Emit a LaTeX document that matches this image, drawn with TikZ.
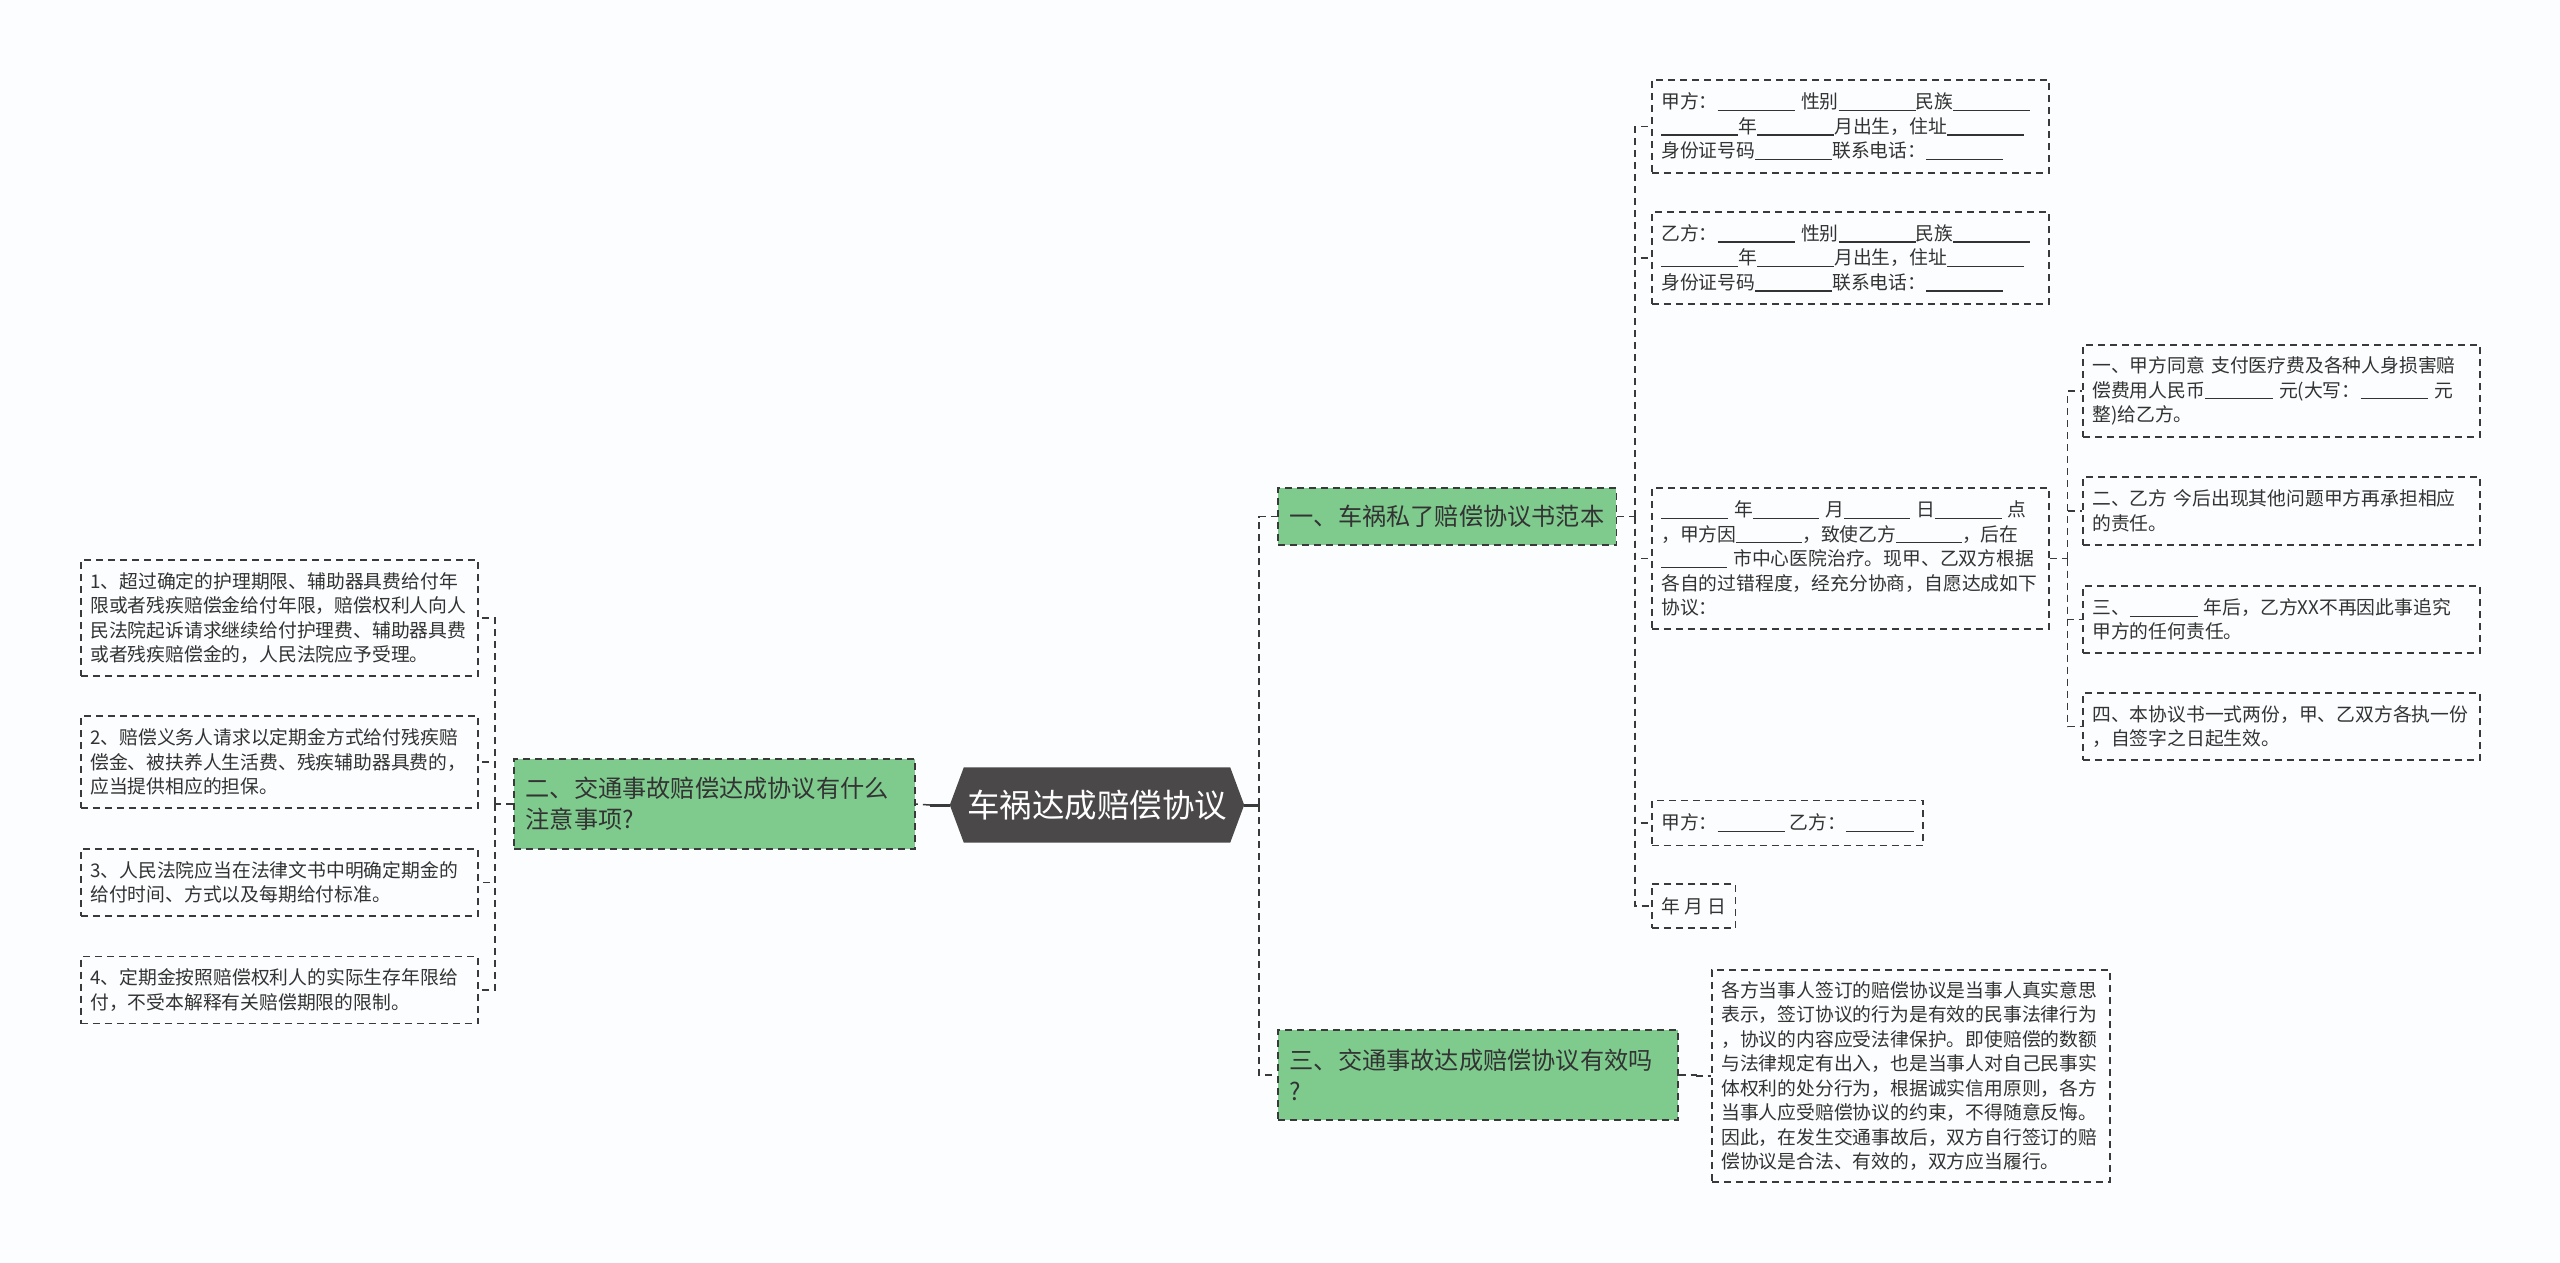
\documentclass[tikz,border=0pt]{standalone}
\usepackage{fontspec}
\setmainfont{Noto Sans CJK SC}
\usetikzlibrary{backgrounds}
\definecolor{bg}{HTML}{FBFDFE}
\definecolor{gfill}{HTML}{7FCB8E}
\definecolor{rootfill}{HTML}{4A4848}
\definecolor{ink}{HTML}{333333}
\definecolor{ln}{HTML}{3A3A3A}
\newcommand\bk[1]{\rule[-0.12em]{#1em}{1.2pt}}
\begin{document}
\begin{tikzpicture}[x=1pt,y=-1pt,
  leaf/.style={draw=ln, line width=1.5pt, dash pattern=on 7pt off 5pt, fill=bg, text=ink,
    font=\fontsize{18.8}{24.5}\selectfont, align=left, inner xsep=9.5pt, inner ysep=0pt, anchor=west},
  branch/.style={draw=ln, line width=1.5pt, dash pattern=on 7pt off 5pt, fill=gfill, text=ink,
    font=\fontsize{24.2}{31}\selectfont, align=left, inner xsep=12pt, inner ysep=0pt, anchor=west},
  rootnode/.style={text=white, font=\fontsize{32.5}{36}\selectfont, minimum width=294pt, minimum height=75pt, inner sep=0pt},
  conn/.style={draw=ln, line width=1.5pt, dash pattern=on 7pt off 5pt},
  rootline/.style={draw=ln, line width=3pt}]
\useasboundingbox (0,0) rectangle (2560,1263);
\begin{scope}[on background layer]
\fill[bg] (0,0) rectangle (2560,1263);
\end{scope}

% root
\node[rootnode] (root) at (1097,805) {车祸达成赔偿协议};
\begin{scope}[on background layer]
\fill[rootfill] (root.west) -- ([xshift=14pt]root.north west) -- ([xshift=-14pt]root.north east) -- (root.east) -- ([xshift=-14pt]root.south east) -- ([xshift=14pt]root.south west) -- cycle;
\end{scope}

% branches
\node[branch, minimum height=57pt] (b1) at (1277,516.5) {一、车祸私了赔偿协议书范本};
\node[branch, text width=376pt, minimum height=90pt] (b3) at (1277,1075) {三、交通事故达成赔偿协议有效吗\\?};
\node[branch, text width=377pt, minimum height=90pt] (b2) at (513,804) {二、交通事故赔偿达成协议有什么\\注意事项?};

% branch 1 children
\node[leaf, text width=378pt, minimum height=93pt] (pa) at (1651,126.5) {甲方：\bk{4.1} 性别\bk{4.1}民族\bk{4.1}\\\bk{4.1}年\bk{4.1}月出生，住址\bk{4.1}\\身份证号码\bk{4.1}联系电话：\bk{4.1}};
\node[leaf, text width=378pt, minimum height=92pt] (pb) at (1651,258) {乙方：\bk{4.1} 性别\bk{4.1}民族\bk{4.1}\\\bk{4.1}年\bk{4.1}月出生，住址\bk{4.1}\\身份证号码\bk{4.1}联系电话：\bk{4.1}};
\node[leaf, text width=378pt, minimum height=141pt] (dt) at (1651,558.5) {\bk{3.55} 年\bk{3.5} 月\bk{3.5} 日\bk{3.55} 点\\，甲方因\bk{3.5}，致使乙方\bk{3.5}，后在\\\bk{3.5} 市中心医院治疗。现甲、乙双方根据\\各自的过错程度，经充分协商，自愿达成如下\\协议：};
\node[leaf, minimum height=45pt] (sg) at (1651,823) {甲方：\bk{3.6} 乙方：\bk{3.6}};
\node[leaf, minimum height=44pt] (ymd) at (1651,906) {年 月 日};

% date children
\node[leaf, text width=378pt, minimum height=92pt] (t1) at (2082,391) {一、甲方同意 支付医疗费及各种人身损害赔\\偿费用人民币\bk{3.6} 元(大写：\bk{3.6} 元\\整)给乙方。};
\node[leaf, text width=378pt, minimum height=68pt] (t2) at (2082,511) {二、乙方 今后出现其他问题甲方再承担相应\\的责任。};
\node[leaf, text width=378pt, minimum height=67pt] (t3) at (2082,619.5) {三、\bk{3.6} 年后，乙方XX不再因此事追究\\甲方的任何责任。};
\node[leaf, text width=378pt, minimum height=67pt] (t4) at (2082,726.5) {四、本协议书一式两份，甲、乙双方各执一份\\，自签字之日起生效。};

% branch 3 child
\node[leaf, text width=379pt, minimum height=212pt] (ev) at (1711,1076) {各方当事人签订的赔偿协议是当事人真实意思\\表示，签订协议的行为是有效的民事法律行为\\，协议的内容应受法律保护。即使赔偿的数额\\与法律规定有出入，也是当事人对自己民事实\\体权利的处分行为，根据诚实信用原则，各方\\当事人应受赔偿协议的约束，不得随意反悔。\\因此，在发生交通事故后，双方自行签订的赔\\偿协议是合法、有效的，双方应当履行。};

% branch 2 children
\node[leaf, text width=378pt, minimum height=116pt] (l1) at (80,618) {1、超过确定的护理期限、辅助器具费给付年\\限或者残疾赔偿金给付年限，赔偿权利人向人\\民法院起诉请求继续给付护理费、辅助器具费\\或者残疾赔偿金的，人民法院应予受理。};
\node[leaf, text width=378pt, minimum height=92pt] (l2) at (80,762) {2、赔偿义务人请求以定期金方式给付残疾赔\\偿金、被扶养人生活费、残疾辅助器具费的，\\应当提供相应的担保。};
\node[leaf, text width=378pt, minimum height=67pt] (l3) at (80,882.5) {3、人民法院应当在法律文书中明确定期金的\\给付时间、方式以及每期给付标准。};
\node[leaf, text width=378pt, minimum height=67pt] (l4) at (80,990) {4、定期金按照赔偿权利人的实际生存年限给\\付，不受本解释有关赔偿期限的限制。};

% connectors: root
\draw[rootline] (root.east) -- ++(15,0) coordinate (jr);
\draw[conn] (jr) |- (b1.west);
\draw[conn] (jr) |- (b3.west);
\draw[rootline] (root.west) -- ++(-20,0) coordinate (jl);
\draw[conn] (jl) -- (b2.east);

% branch 1
\draw[conn] (b1.east) -- ++(18,0) coordinate (j1);
\foreach \n in {pa,pb,dt,sg,ymd} \draw[conn] (j1) |- (\n.west);
% date children
\draw[conn] (dt.east) -- ++(18,0) coordinate (j2);
\foreach \n in {t1,t2,t3,t4} \draw[conn] (j2) |- (\n.west);
% branch 3
\draw[conn] (b3.east) -- ++(18,0) coordinate (j3);
\draw[conn] (j3) |- (ev.west);
% branch 2
\draw[conn] (b2.west) -- ++(-18,0) coordinate (j4);
\foreach \n in {l1,l2,l3,l4} \draw[conn] (j4) |- (\n.east);
\end{tikzpicture}
\end{document}
